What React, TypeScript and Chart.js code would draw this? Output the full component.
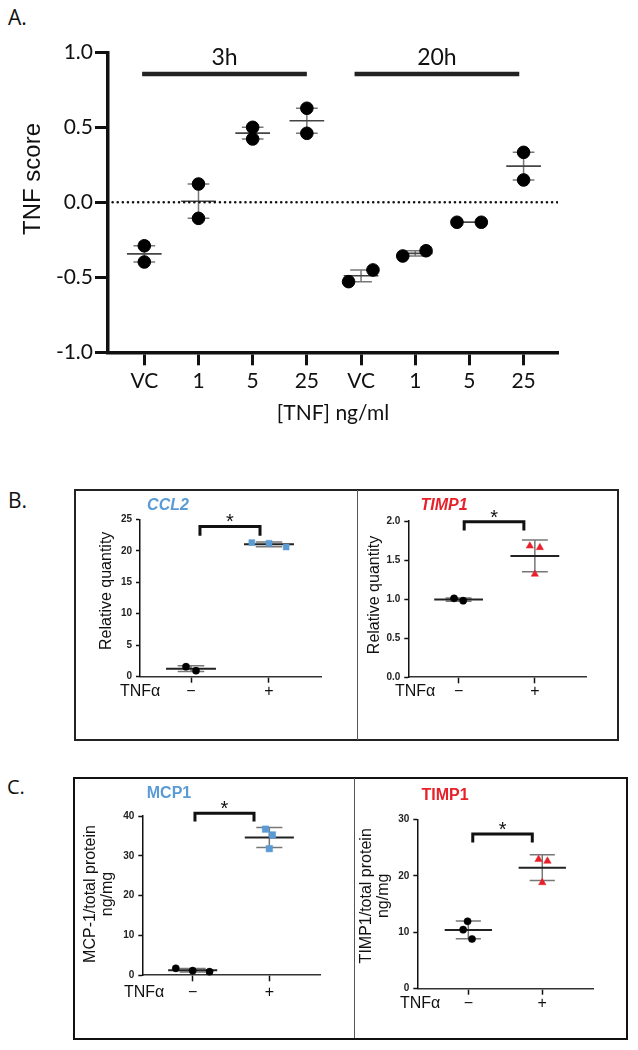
import React, { useEffect, useRef } from 'react';
import { Chart, registerables } from 'chart.js';

Chart.register(...registerables);

const ARIAL = '"Liberation Sans", Arial, Helvetica, sans-serif';
const MYRIAD = 'Lato, "Open Sans", sans-serif';

// ---------------- Panel A data ----------------
const A_CATEGORIES = ['VC', '1', '5', '25', 'VC', '1', '5', '25'];
const A_REPLICATE_1 = [-0.29, 0.122, 0.5, 0.627, -0.529, -0.358, -0.133, 0.333];
const A_REPLICATE_2 = [-0.398, -0.107, 0.422, 0.46, -0.451, -0.323, -0.133, 0.149];
const A_JITTER_1 = [0, 0, 0, 0, -0.23, -0.23, -0.23, 0];
const A_JITTER_2 = [0, 0, 0, 0, 0.22, 0.2, 0.22, 0];
const A_TIMEPOINTS = ['3h', '20h'];
const A_TIMEPOINT_START = [-0.04, 3.88];
const A_TIMEPOINT_END = [3.0, 6.92];
const A_Y_TICK_STEP = 0.5;
const A_X_TITLE = '[TNF] ng/ml';
const A_Y_TITLE = 'TNF score';

// ---------------- Panel B / C data ----------------
const TREATMENT_LABELS = ['\u2212', '+'];

const CCL2_CONTROL = [1.59, 0.95];
const CCL2_TNF = [21.3, 21.2, 20.6];
const CCL2_CONTROL_JITTER = [-0.064, 0.064];
const CCL2_TNF_JITTER = [-0.22, 0, 0.22];
const CCL2_BRACKET = [0.115, 0.885, 23.85, 22.4];

const TIMP1_QPCR_CONTROL = [1.01, 0.98];
const TIMP1_QPCR_TNF = [1.68, 1.66, 1.32];
const TIMP1_QPCR_CONTROL_JITTER = [-0.06, 0.06];
const TIMP1_QPCR_TNF_JITTER = [-0.066, 0.066, 0];
const TIMP1_QPCR_BRACKET = [0.073, 0.856, 1.99, 1.88];

const MCP1_CONTROL = [1.76, 1.16, 0.9];
const MCP1_TNF = [36.7, 35.25, 31.8];
const MCP1_CONTROL_JITTER = [-0.22, 0, 0.22];
const MCP1_TNF_JITTER = [-0.05, 0.04, 0];
const MCP1_BRACKET = [0.03, 0.8, 40.7, 38.6];

const TIMP1_PROTEIN_CONTROL = [11.94, 10.46, 8.8];
const TIMP1_PROTEIN_TNF = [22.9, 22.6, 18.8];
const TIMP1_PROTEIN_CONTROL_JITTER = [-0.01, -0.07, 0.05];
const TIMP1_PROTEIN_TNF_JITTER = [-0.05, 0.07, 0];
const TIMP1_PROTEIN_BRACKET = [0.06, 0.865, 27.4, 25.9];

const BLUE = '#5b9bd5';
const RED = '#e8202a';

function meanOf(a: number[]) {
  return a.reduce((s, v) => s + v, 0) / a.length;
}
function sdOf(a: number[]) {
  const m = meanOf(a);
  return Math.sqrt(a.reduce((s, v) => s + (v - m) * (v - m), 0) / (a.length - 1));
}
function semOf(a: number[]) {
  return sdOf(a) / Math.sqrt(a.length);
}

function drawVText(ctx: CanvasRenderingContext2D, lines: string[], cx: number, cy: number, font: string, lh: number, color: string) {
  ctx.save();
  ctx.translate(cx, cy);
  ctx.rotate(-Math.PI / 2);
  ctx.font = font;
  ctx.fillStyle = color;
  ctx.textAlign = 'center';
  ctx.textBaseline = 'middle';
  lines.forEach((t, i) => ctx.fillText(t, 0, i * lh));
  ctx.restore();
}

// ---------------- Panel A ----------------
function PanelA() {
  const ref = useRef<HTMLCanvasElement>(null);
  useEffect(() => {
    const W = 638;
    const H = 440;
    const area = { l: 108, r: 558, t: 52.3, b: 352.3 };
    const barLevel = 0.855;
    const labelLevel = 0.965;

    const points: { x: number; y: number }[] = [];
    A_REPLICATE_1.forEach((v, i) => points.push({ x: i + A_JITTER_1[i], y: v }));
    A_REPLICATE_2.forEach((v, i) => points.push({ x: i + A_JITTER_2[i], y: v }));

    const datasets: any[] = [
      {
        type: 'line',
        data: [{ x: -0.585, y: 0 }, { x: 7.635, y: 0 }],
        borderColor: '#111',
        borderWidth: 2.6,
        borderDash: [0.01, 5.1],
        borderCapStyle: 'round',
        pointRadius: 0,
      },
      ...A_TIMEPOINTS.map((t, i) => ({
        type: 'line',
        label: t,
        data: [{ x: A_TIMEPOINT_START[i], y: barLevel }, { x: A_TIMEPOINT_END[i], y: barLevel }],
        borderColor: '#222',
        borderWidth: 4.5,
        pointRadius: 0,
      })),
      {
        type: 'scatter',
        data: points,
        pointRadius: 6.3,
        pointBackgroundColor: '#000',
        pointBorderColor: '#000',
        pointBorderWidth: 1,
        clip: false,
      },
    ];

    const plugin = {
      id: 'panelAAnno',
      beforeDatasetsDraw(chart: any) {
        const { ctx } = chart;
        const xs = chart.scales.x;
        const ys = chart.scales.y;
        A_CATEGORIES.forEach((_, i) => {
          const vals = [A_REPLICATE_1[i], A_REPLICATE_2[i]];
          const m = meanOf(vals);
          const e = semOf(vals);
          const px = xs.getPixelForValue(i);
          const ww = xs.getPixelForValue(i + 0.2) - px;
          const mw = xs.getPixelForValue(i + 0.32) - px;
          ctx.save();
          ctx.strokeStyle = '#777';
          ctx.lineWidth = 1.5;
          ctx.beginPath();
          ctx.moveTo(px, ys.getPixelForValue(m + e));
          ctx.lineTo(px, ys.getPixelForValue(m - e));
          [m + e, m - e].forEach((v) => {
            const py = ys.getPixelForValue(v);
            ctx.moveTo(px - ww, py);
            ctx.lineTo(px + ww, py);
          });
          ctx.stroke();
          ctx.strokeStyle = '#444';
          ctx.lineWidth = 1.6;
          ctx.beginPath();
          const pm = ys.getPixelForValue(m);
          ctx.moveTo(px - mw, pm);
          ctx.lineTo(px + mw, pm);
          ctx.stroke();
          ctx.restore();
        });
      },
      afterDraw(chart: any) {
        const { ctx } = chart;
        const xs = chart.scales.x;
        const ys = chart.scales.y;
        ctx.save();
        ctx.font = `23px ${MYRIAD}`;
        ctx.fillStyle = '#111';
        ctx.textAlign = 'center';
        ctx.textBaseline = 'middle';
        A_TIMEPOINTS.forEach((t, i) => {
          const cx = xs.getPixelForValue((A_TIMEPOINT_START[i] + A_TIMEPOINT_END[i]) / 2);
          ctx.fillText(t, cx, ys.getPixelForValue(labelLevel));
        });
        ctx.restore();
        drawVText(ctx, [A_Y_TITLE], 33, 179, `24px ${ARIAL}`, 24, '#111');
      },
    };

    const chart = new Chart(ref.current as HTMLCanvasElement, {
      type: 'scatter',
      data: { datasets },
      options: {
        responsive: false,
        animation: false,
        devicePixelRatio: 1,
        events: [],
        layout: { padding: { left: 8, top: area.t, right: W - area.r, bottom: 0 } },
        plugins: { legend: { display: false }, tooltip: { enabled: false } },
        scales: {
          x: {
            type: 'linear',
            min: -0.67,
            max: 7.635,
            afterBuildTicks: (s: any) => {
              s.ticks = A_CATEGORIES.map((_, i) => ({ value: i }));
            },
            afterFit: (s: any) => {
              s.height = H - area.b;
            },
            ticks: {
              autoSkip: false,
              maxRotation: 0,
              padding: 3.8,
              color: '#111',
              font: { family: MYRIAD, size: 21, lineHeight: 1.2 },
              callback: (v: any) => A_CATEGORIES[Math.round(Number(v))],
            },
            grid: { display: true, drawOnChartArea: false, drawTicks: true, tickLength: 13, tickWidth: 3, tickColor: '#111' },
            border: { display: true, color: '#111', width: 3.5 },
            title: {
              display: true,
              text: A_X_TITLE,
              color: '#111',
              font: { family: MYRIAD, size: 21, lineHeight: 1.2 },
              padding: { top: 0, bottom: 14.4 },
            },
          },
          y: {
            min: -1,
            max: 1,
            afterFit: (s: any) => {
              s.width = area.l - 8;
            },
            ticks: {
              stepSize: A_Y_TICK_STEP,
              padding: 2,
              color: '#111',
              font: { family: MYRIAD, size: 21 },
              callback: (v: any) => Number(v).toFixed(1),
            },
            grid: { display: true, drawOnChartArea: false, drawTicks: true, tickLength: 13, tickWidth: 3, tickColor: '#111' },
            border: { display: true, color: '#111', width: 3.5 },
          },
        },
      } as any,
      plugins: [plugin],
    });
    return () => chart.destroy();
  }, []);
  return <canvas ref={ref} width={638} height={440} style={{ position: 'absolute', left: 0, top: 0, width: 638, height: 440 }} />;
}

// ---------------- Panels B / C ----------------
type SmallCfg = {
  canvas: { x: number; y: number; w: number; h: number };
  area: { l: number; r: number; t: number; b: number };
  xMin: number;
  xMax: number;
  yMax: number;
  yStep: number;
  yDecimals: number;
  control: number[];
  tnf: number[];
  controlJitter: number[];
  tnfJitter: number[];
  tnfStyle: string;
  tnfColor: string;
  tnfRadius: number;
  bracket: number[];
  gene: { text: string; italic: boolean; color: string; x: number; y: number };
  yTitle: { lines: string[]; x: number; y: number; lh: number };
  tnfLabel: { x: number; y: number };
};

const SMALL_CHARTS: SmallCfg[] = [
  {
    canvas: { x: 76, y: 492, w: 279, h: 246 },
    area: { l: 140, r: 321.7, t: 519.3, b: 676.7 },
    xMin: -0.654,
    xMax: 1.676,
    yMax: 25,
    yStep: 5,
    yDecimals: 0,
    control: CCL2_CONTROL,
    tnf: CCL2_TNF,
    controlJitter: CCL2_CONTROL_JITTER,
    tnfJitter: CCL2_TNF_JITTER,
    tnfStyle: 'rect',
    tnfColor: BLUE,
    tnfRadius: 4.2,
    bracket: CCL2_BRACKET,
    gene: { text: 'CCL2', italic: true, color: BLUE, x: 168, y: 505.7 },
    yTitle: { lines: ['Relative quantity'], x: 106.7, y: 590.8, lh: 17 },
    tnfLabel: { x: 120, y: 691.7 },
  },
  {
    canvas: { x: 359, y: 492, w: 257, h: 246 },
    area: { l: 408.3, r: 586.7, t: 521, b: 677.3 },
    xMin: -0.66,
    xMax: 1.68,
    yMax: 2,
    yStep: 0.5,
    yDecimals: 1,
    control: TIMP1_QPCR_CONTROL,
    tnf: TIMP1_QPCR_TNF,
    controlJitter: TIMP1_QPCR_CONTROL_JITTER,
    tnfJitter: TIMP1_QPCR_TNF_JITTER,
    tnfStyle: 'triangle',
    tnfColor: RED,
    tnfRadius: 4.2,
    bracket: TIMP1_QPCR_BRACKET,
    gene: { text: 'TIMP1', italic: true, color: RED, x: 444, y: 505.7 },
    yTitle: { lines: ['Relative quantity'], x: 375, y: 595, lh: 17 },
    tnfLabel: { x: 395, y: 691.7 },
  },
  {
    canvas: { x: 76, y: 780, w: 276, h: 256 },
    area: { l: 142.3, r: 320.7, t: 816, b: 975.3 },
    xMin: -0.657,
    xMax: 1.67,
    yMax: 40,
    yStep: 10,
    yDecimals: 0,
    control: MCP1_CONTROL,
    tnf: MCP1_TNF,
    controlJitter: MCP1_CONTROL_JITTER,
    tnfJitter: MCP1_TNF_JITTER,
    tnfStyle: 'rect',
    tnfColor: BLUE,
    tnfRadius: 4.6,
    bracket: MCP1_BRACKET,
    gene: { text: 'MCP1', italic: false, color: BLUE, x: 169, y: 793.3 },
    yTitle: { lines: ['MCP-1/total protein', 'ng/mg'], x: 91, y: 894, lh: 17 },
    tnfLabel: { x: 124, y: 992.7 },
  },
  {
    canvas: { x: 357, y: 780, w: 267, h: 256 },
    area: { l: 417.3, r: 593.3, t: 819.3, b: 988.7 },
    xMin: -0.69,
    xMax: 1.69,
    yMax: 30,
    yStep: 10,
    yDecimals: 0,
    control: TIMP1_PROTEIN_CONTROL,
    tnf: TIMP1_PROTEIN_TNF,
    controlJitter: TIMP1_PROTEIN_CONTROL_JITTER,
    tnfJitter: TIMP1_PROTEIN_TNF_JITTER,
    tnfStyle: 'triangle',
    tnfColor: RED,
    tnfRadius: 4.3,
    bracket: TIMP1_PROTEIN_BRACKET,
    gene: { text: 'TIMP1', italic: false, color: RED, x: 445, y: 796 },
    yTitle: { lines: ['TIMP1/total protein', 'ng/mg'], x: 367, y: 895.8, lh: 17 },
    tnfLabel: { x: 400, y: 1003.3 },
  },
];

function SmallChart({ cfg }: { cfg: SmallCfg }) {
  const ref = useRef<HTMLCanvasElement>(null);
  useEffect(() => {
    const { canvas: cv, area } = cfg;
    const tickLen = 6;
    const labelPad = cfg.tnfLabel.y - area.b - tickLen - 8;

    const datasets: any[] = [
      {
        type: 'scatter',
        data: cfg.control.map((v, i) => ({ x: 0 + cfg.controlJitter[i], y: v })),
        pointStyle: 'circle',
        pointRadius: 3.6,
        pointBackgroundColor: '#000',
        pointBorderColor: '#000',
        pointBorderWidth: 0.5,
        clip: false,
      },
      {
        type: 'scatter',
        data: cfg.tnf.map((v, i) => ({ x: 1 + cfg.tnfJitter[i], y: v })),
        pointStyle: cfg.tnfStyle,
        pointRadius: cfg.tnfRadius,
        pointBackgroundColor: cfg.tnfColor,
        pointBorderColor: cfg.tnfColor,
        pointBorderWidth: 0.5,
        clip: false,
      },
    ];

    const plugin = {
      id: 'smallAnno',
      beforeDatasetsDraw(chart: any) {
        const { ctx } = chart;
        const xs = chart.scales.x;
        const ys = chart.scales.y;
        [cfg.control, cfg.tnf].forEach((vals, xi) => {
          const m = meanOf(vals);
          const e = sdOf(vals);
          const px = xs.getPixelForValue(xi);
          const ww = xs.getPixelForValue(xi + 0.17) - px;
          const mw = xs.getPixelForValue(xi + 0.32) - px;
          ctx.save();
          ctx.strokeStyle = '#777';
          ctx.lineWidth = 1.5;
          ctx.beginPath();
          ctx.moveTo(px, ys.getPixelForValue(m + e));
          ctx.lineTo(px, ys.getPixelForValue(m - e));
          [m + e, m - e].forEach((v) => {
            const py = ys.getPixelForValue(v);
            ctx.moveTo(px - ww, py);
            ctx.lineTo(px + ww, py);
          });
          ctx.stroke();
          ctx.strokeStyle = '#222';
          ctx.lineWidth = 2;
          ctx.beginPath();
          const pm = ys.getPixelForValue(m);
          ctx.moveTo(px - mw, pm);
          ctx.lineTo(px + mw, pm);
          ctx.stroke();
          ctx.restore();
        });
      },
      afterDraw(chart: any) {
        const { ctx } = chart;
        const xs = chart.scales.x;
        const ys = chart.scales.y;
        const [bx1, bx2, byTop, byBot] = cfg.bracket;
        const x1 = xs.getPixelForValue(bx1);
        const x2 = xs.getPixelForValue(bx2);
        const yt = ys.getPixelForValue(byTop);
        const yb = ys.getPixelForValue(byBot);
        ctx.save();
        ctx.strokeStyle = '#111';
        ctx.lineWidth = 3;
        ctx.lineJoin = 'miter';
        ctx.beginPath();
        ctx.moveTo(x1, yb);
        ctx.lineTo(x1, yt);
        ctx.lineTo(x2, yt);
        ctx.lineTo(x2, yb);
        ctx.stroke();
        // significance star
        ctx.fillStyle = '#111';
        ctx.font = `20px ${ARIAL}`;
        ctx.textAlign = 'center';
        ctx.textBaseline = 'alphabetic';
        ctx.fillText('*', (x1 + x2) / 2, yt - 9.5 + 11.4);
        // gene title
        ctx.font = `${cfg.gene.italic ? 'italic ' : ''}bold 16px ${ARIAL}`;
        ctx.fillStyle = cfg.gene.color;
        ctx.textBaseline = 'middle';
        ctx.fillText(cfg.gene.text, cfg.gene.x - cv.x, cfg.gene.y - cv.y);
        // TNFα label
        ctx.font = `16px ${ARIAL}`;
        ctx.fillStyle = '#111';
        ctx.textAlign = 'left';
        ctx.fillText('TNF\u03b1', cfg.tnfLabel.x - cv.x, cfg.tnfLabel.y - cv.y);
        ctx.restore();
        drawVText(ctx, cfg.yTitle.lines, cfg.yTitle.x - cv.x, cfg.yTitle.y - cv.y, `16px ${ARIAL}`, cfg.yTitle.lh, '#111');
      },
    };

    const chart = new Chart(ref.current as HTMLCanvasElement, {
      type: 'scatter',
      data: { datasets },
      options: {
        responsive: false,
        animation: false,
        devicePixelRatio: 1,
        events: [],
        layout: { padding: { left: 0, top: area.t - cv.y, right: cv.x + cv.w - area.r, bottom: 0 } },
        plugins: { legend: { display: false }, tooltip: { enabled: false } },
        scales: {
          x: {
            type: 'linear',
            min: cfg.xMin,
            max: cfg.xMax,
            afterBuildTicks: (s: any) => {
              s.ticks = TREATMENT_LABELS.map((_, i) => ({ value: i }));
            },
            afterFit: (s: any) => {
              s.height = cv.y + cv.h - area.b;
            },
            ticks: {
              autoSkip: false,
              maxRotation: 0,
              padding: labelPad,
              color: '#111',
              font: { family: ARIAL, size: 16, lineHeight: 1 },
              callback: (v: any) => TREATMENT_LABELS[Math.round(Number(v))],
            },
            grid: { display: true, drawOnChartArea: false, drawTicks: true, tickLength: tickLen, tickWidth: 1.5, tickColor: '#111' },
            border: { display: true, color: '#333', width: 1.6, dash: [3, 1] },
          },
          y: {
            min: 0,
            max: cfg.yMax,
            afterFit: (s: any) => {
              s.width = area.l - cv.x;
            },
            ticks: {
              stepSize: cfg.yStep,
              padding: 4,
              color: '#222',
              font: { family: ARIAL, size: 10, weight: 'bold' },
              callback: (v: any) => Number(v).toFixed(cfg.yDecimals),
            },
            grid: { display: true, drawOnChartArea: false, drawTicks: true, tickLength: 4, tickWidth: 1.5, tickColor: '#111' },
            border: { display: true, color: '#111', width: 1.5 },
          },
        },
      } as any,
      plugins: [plugin],
    });
    return () => chart.destroy();
  }, [cfg]);
  const { canvas: cv } = cfg;
  return (
    <canvas
      ref={ref}
      width={cv.w}
      height={cv.h}
      style={{ position: 'absolute', left: cv.x, top: cv.y, width: cv.w, height: cv.h }}
    />
  );
}

const letterStyle = (left: number, top: number, size: number): React.CSSProperties => ({
  position: 'absolute',
  left,
  top,
  fontFamily: '"Open Sans", Lato, sans-serif',
  fontSize: size,
  lineHeight: `${size}px`,
  color: '#111',
});

export default function App() {
  return (
    <div style={{ position: 'absolute', left: 0, top: 0, width: 638, height: 1050, background: '#fff', overflow: 'hidden' }}>
      <div style={letterStyle(8, 7, 21)}>A.</div>
      <div style={letterStyle(8, 490, 21)}>B.</div>
      <div style={letterStyle(7, 777, 20)}>C.</div>
      <PanelA />
      {/* Panel B frame */}
      <div style={{ position: 'absolute', left: 74, top: 489, width: 545, height: 252, border: '2px solid #222', boxSizing: 'border-box' }} />
      <div style={{ position: 'absolute', left: 356.5, top: 490, width: 1.5, height: 250, background: '#555' }} />
      {/* Panel C frame */}
      <div style={{ position: 'absolute', left: 72.5, top: 776.5, width: 555, height: 263, border: '2.5px solid #111', boxSizing: 'border-box' }} />
      <div style={{ position: 'absolute', left: 353.5, top: 778, width: 1.5, height: 260, background: '#555' }} />
      {SMALL_CHARTS.map((c, i) => (
        <SmallChart key={i} cfg={c} />
      ))}
    </div>
  );
}
